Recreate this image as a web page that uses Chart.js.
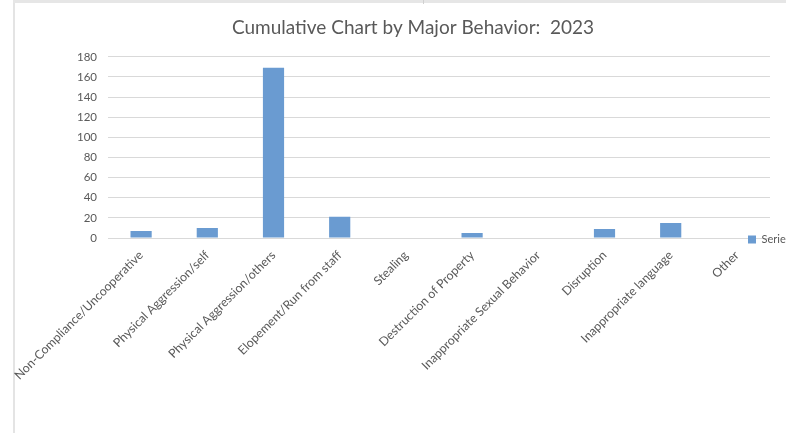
<!DOCTYPE html>
<html>
<head>
<meta charset="utf-8">
<script src="https://cdn.jsdelivr.net/npm/chart.js@4/dist/chart.umd.min.js"></script>
<style>
  html, body { margin: 0; padding: 0; background: #ffffff; overflow: hidden; }
  #wrap { position: relative; width: 786px; height: 433px; }
  #frameLeft { position: absolute; left: 13px; top: 0; width: 2px; height: 433px; background: #e4e4e4; }
  #frameTop { position: absolute; left: 13px; top: 0; width: 773px; height: 3px; background: #e6e6e6; }
  #frameTick { position: absolute; left: 423px; top: 0; width: 1px; height: 4px; background: #d0d0d0; }
  canvas { position: absolute; left: 0; top: 0; }
</style>
</head>
<body>
<div id="wrap">
  <div id="frameLeft"></div>
  <div id="frameTop"></div>
  <div id="frameTick"></div>
  <canvas id="c" width="786" height="433"></canvas>
</div>
<script>
const chartTitle = "Cumulative Chart by Major Behavior:  2023";
const categories = [
  "Non-Compliance/Uncooperative",
  "Physical Aggression/self",
  "Physical Aggression/others",
  "Elopement/Run from staff",
  "Stealing",
  "Destruction of Property",
  "Inappropriate Sexual Behavior",
  "Disruption",
  "Inappropriate language",
  "Other"
];
const seriesName = "Series1";
const seriesValues = [7, 10, 169, 21, 0, 5, 0, 9, 15, 0];
const yTicks = [0, 20, 40, 60, 80, 100, 120, 140, 160, 180];

const FONT = "'Lato', 'Liberation Sans', sans-serif";
const GREY = '#595959';

const legendMover = {
  id: 'legendMover',
  afterLayout(chart) {
    const lg = chart.legend;
    if (!lg) return;
    lg.left = 748;
    lg.right = 820;
    lg.width = 72;
    lg.top = 234;
    lg.bottom = 248;
    lg.height = 14;
  }
};

new Chart(document.getElementById('c'), {
  type: 'bar',
  data: {
    labels: categories,
    datasets: [{
      label: seriesName,
      data: seriesValues,
      backgroundColor: '#6a9bd1',
      borderWidth: 0,
      barPercentage: 0.8,
      categoryPercentage: 0.4
    }]
  },
  options: {
    responsive: false,
    animation: false,
    devicePixelRatio: 1,
    layout: { padding: { left: 40, right: 0, top: 0, bottom: 0 } },
    plugins: {
      title: {
        display: true,
        text: chartTitle,
        color: GREY,
        font: { family: FONT, size: 19, weight: 'normal' },
        padding: { top: 16, bottom: 18 }
      },
      legend: {
        display: true,
        position: 'right',
        align: 'start',
        maxWidth: 16,
        labels: {
          boxWidth: 8,
          boxHeight: 8,
          padding: 0,
          color: GREY,
          font: { family: FONT, size: 11 }
        }
      },
      tooltip: { enabled: false }
    },
    scales: {
      x: {
        grid: { display: false, drawTicks: false },
        border: { display: false },
        ticks: {
          autoSkip: false,
          maxRotation: 45,
          minRotation: 45,
          padding: 10,
          color: GREY,
          font: { family: FONT, size: 12.3 }
        },
        afterFit(scale) { scale.height = 433 - 238; }
      },
      y: {
        min: 0,
        max: 180,
        afterBuildTicks(scale) { scale.ticks = yTicks.map(v => ({ value: v })); },
        grid: { color: '#d9d9d9', lineWidth: 1, drawTicks: false },
        border: { display: false },
        ticks: {
          padding: 11,
          color: GREY,
          font: { family: FONT, size: 11.5 }
        },
        afterFit(scale) { scale.width = 68; }
      }
    }
  },
  plugins: [legendMover]
});
</script>
</body>
</html>
